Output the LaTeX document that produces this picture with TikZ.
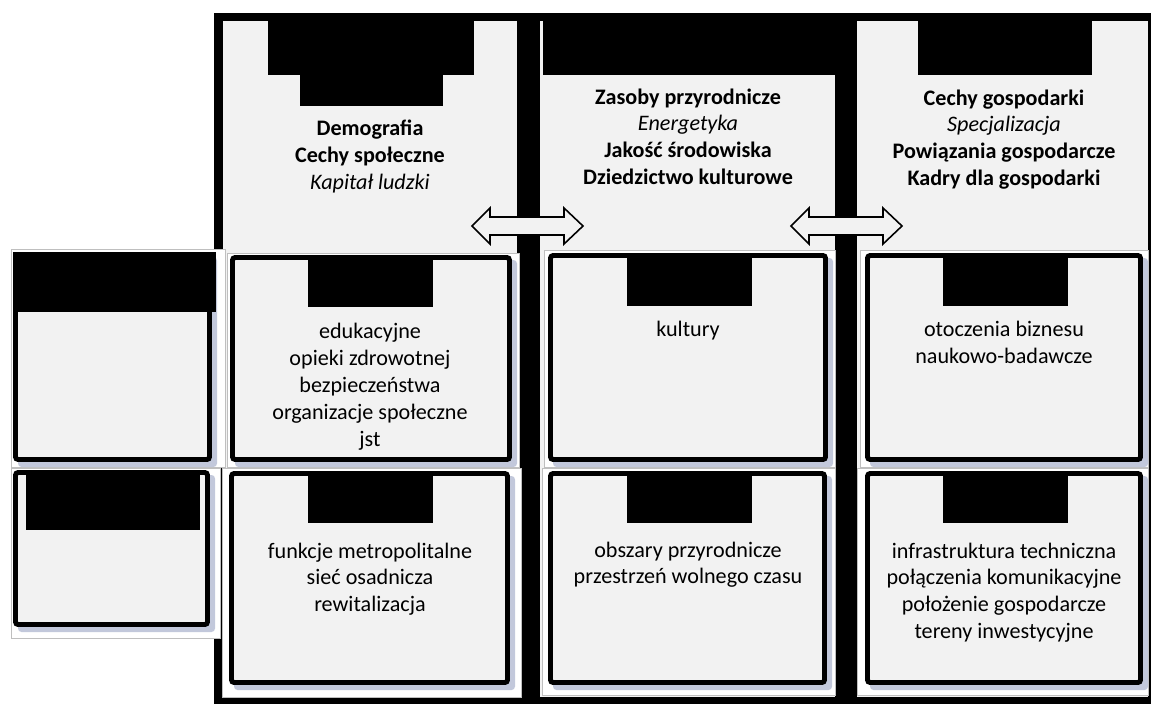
\documentclass[tikz,border=0pt]{standalone}
\usepackage{fontspec}
\setmainfont{Carlito}
\definecolor{panelgray}{HTML}{F2F2F2}
\definecolor{boxgray}{HTML}{F2F2F2}
\definecolor{canvasgray}{HTML}{BFBFBF}
\definecolor{shadowblue}{HTML}{C2C8DB}
\tikzset{
  panel/.style={fill=panelgray},
  canvas/.style={fill=white, draw=canvasgray, line width=0.4pt},
  boxframe/.style={draw=black, line width=2.8pt, rounded corners=1.5pt, fill=boxgray},
  boxshadow/.style={fill=shadowblue, rounded corners=2pt},
  blackbar/.style={fill=black},
  txt/.style={inner sep=0pt, anchor=base, font=\fontsize{12.6pt}{15.3pt}\selectfont},
  blockarrow/.style={draw=black, line width=0.9pt, fill=panelgray, line join=miter},
}
\newcommand\shadowedbox[4]{%
  \fill[boxshadow] (#1+5,#2+5) rectangle (#3+5,#4+5);
  \draw[boxframe] (#1+2.5,#2+2.5) rectangle (#3-2.5,#4-2.5);
}
\newcommand\lines[1]{\begin{tabular}[t]{@{}c@{}}#1\end{tabular}}
\begin{document}
\begin{tikzpicture}[x=0.02cm,y=-0.02cm]
\useasboundingbox (0,0) rectangle (1151,704);
% main frame
\fill[blackbar] (214,13) rectangle (1151,704);
% column panels
\fill[panel] (223,21) rectangle (517,697);
\fill[panel] (540,21) rectangle (835,697);
\fill[panel] (857,21) rectangle (1148,697);
% column headers (black)
\fill[blackbar] (268,21) rectangle (474,75);
\fill[blackbar] (300,75) rectangle (443,106);
\fill[blackbar] (543,21) rectangle (835,75);
\fill[blackbar] (918,21) rectangle (1092,75);
% header texts
\node[txt] (h1) at (370,135.5) {\lines{\textbf{Demografia}\\\textbf{Cechy społeczne}\\\textit{Kapitał ludzki}}};
\node[txt] (h2) at (688,104) {\lines{\textbf{Zasoby przyrodnicze}\\\textit{Energetyka}\\\textbf{Jakość środowiska}\\\textbf{Dziedzictwo kulturowe}}};
\node[txt] (h3) at (1004,105) {\lines{\textbf{Cechy gospodarki}\\\textit{Specjalizacja}\\\textbf{Powiązania gospodarcze}\\\textbf{Kadry dla gospodarki}}};
% canvases
\draw[canvas] (227,253) rectangle (519,467);
\draw[canvas] (222,468) rectangle (521,697);
\draw[canvas] (544,250) rectangle (835,467);
\draw[canvas] (542,468) rectangle (835,695);
\draw[canvas] (860,250) rectangle (1148,467);
\draw[canvas] (857,468) rectangle (1148,695);
\draw[canvas] (11,249) rectangle (225,467);
\draw[canvas] (11,468) rectangle (220,638);
% boxes
\shadowedbox{230}{255}{512}{462}
\shadowedbox{229}{471}{510}{685}
\shadowedbox{548}{253}{828}{462}
\shadowedbox{548}{471}{827}{685}
\shadowedbox{865}{253}{1143}{462}
\shadowedbox{865}{471}{1143}{685}
\shadowedbox{13}{252}{212}{462}
\shadowedbox{13}{470}{210}{627}
% tabs
\fill[blackbar] (308,260) rectangle (433,307);
\fill[blackbar] (308,476) rectangle (433,523);
\fill[blackbar] (627,257) rectangle (752,306);
\fill[blackbar] (627,476) rectangle (752,523);
\fill[blackbar] (943,258) rectangle (1068,306);
\fill[blackbar] (943,476) rectangle (1068,523);
\fill[blackbar] (13,252) rectangle (216,312);
\fill[blackbar] (26,470) rectangle (200,530);
% box texts
\node[txt] (t1a) at (370,338.5) {\lines{edukacyjne\\opieki zdrowotnej\\bezpieczeństwa\\organizacje społeczne\\jst}};
\node[txt] (t1b) at (370,558) {\lines{funkcje metropolitalne\\sieć osadnicza\\rewitalizacja}};
\node[txt] (t2a) at (688,336) {\lines{kultury}};
\node[txt] (t2b) at (688,557) {\lines{obszary przyrodnicze\\przestrzeń wolnego czasu}};
\node[txt] (t3a) at (1004,336.5) {\lines{otoczenia biznesu\\naukowo-badawcze}};
\node[txt] (t3b) at (1004,558) {\lines{infrastruktura techniczna\\połączenia komunikacyjne\\położenie gospodarcze\\tereny inwestycyjne}};
% double block arrows
\draw[blockarrow] (472,226) -- (490,208) -- (490,217) -- (564,217) -- (564,208) -- (583,226)
  -- (564,244) -- (564,235) -- (490,235) -- (490,244) -- cycle;
\draw[blockarrow] (791,226) -- (809,208) -- (809,217) -- (883,217) -- (883,208) -- (902,226)
  -- (883,244) -- (883,235) -- (809,235) -- (809,244) -- cycle;
\end{tikzpicture}
\end{document}
